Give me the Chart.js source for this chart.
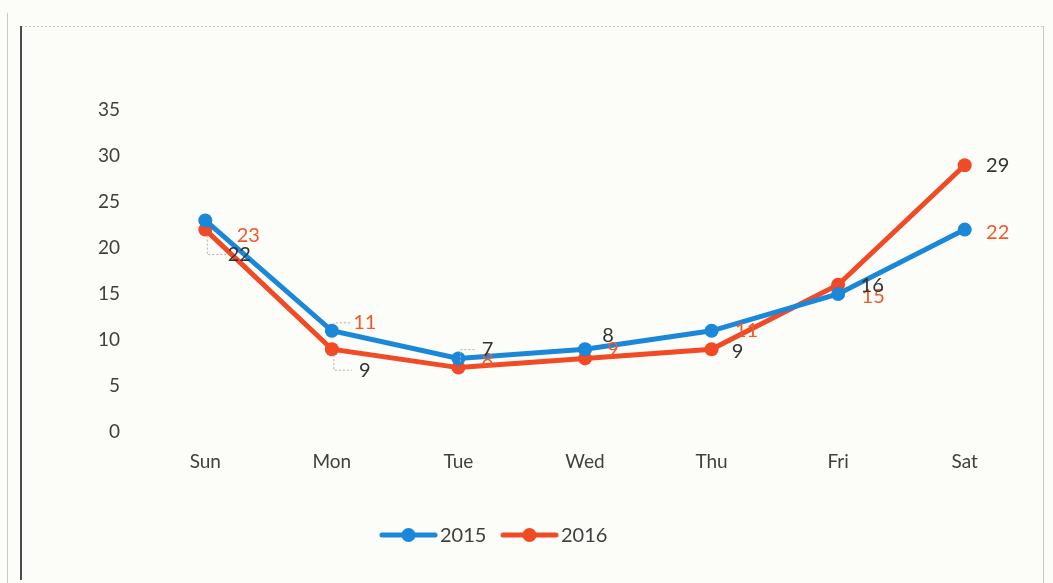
<!DOCTYPE html>
<html>
<head>
<meta charset="utf-8">
<script src="https://cdn.jsdelivr.net/npm/chart.js@4/dist/chart.umd.min.js"></script>
<style>
  html, body { margin: 0; padding: 0; background: #fcfcf8; }
  #wrap { position: relative; width: 1053px; height: 583px; }
</style>
</head>
<body>
<div id="wrap"><canvas id="c" width="1053" height="583"></canvas></div>
<script>
// Weekly counts for two years
const days = ['Sun', 'Mon', 'Tue', 'Wed', 'Thu', 'Fri', 'Sat'];
const series2015 = [23, 11, 8, 9, 11, 15, 22];
const series2016 = [22, 9, 7, 8, 9, 16, 29];
const yTicks = [0, 5, 10, 15, 20, 25, 30, 35];

const BLUE = '#1b87d8';
const RED = '#f04b26';
const LABEL_ORANGE = '#ef5a2c';
const LABEL_DARK = '#333333';
const FONT = "'Lato', 'Open Sans', sans-serif";

// Offsets (px) of each value label from its point, per series
const labelOffsets = {
  0: [[43, 15], [33, -8], [29, 2], [28, 0], [35, 0], [35, 3], [33, 3]],
  1: [[34, 25], [33, 21], [29, -18], [23, -23], [26, 2], [34, 1], [33, 0]]
};
const labelColors = { 0: LABEL_ORANGE, 1: LABEL_DARK };

// Frame, value labels and legend
const decor = {
  id: 'decor',
  beforeDraw(chart) {
    const ctx = chart.ctx;
    ctx.save();
    ctx.fillStyle = '#fcfcf8';
    ctx.fillRect(0, 0, chart.width, chart.height);
    // outer faint page edge
    ctx.strokeStyle = '#c9c9c0';
    ctx.lineWidth = 1;
    ctx.beginPath();
    ctx.moveTo(7.5, 13); ctx.lineTo(7.5, 583);
    ctx.stroke();
    // chart frame
    ctx.strokeStyle = '#c8ccb0';
    ctx.setLineDash([2, 2]);
    ctx.beginPath();
    ctx.moveTo(21, 26.5); ctx.lineTo(1043, 26.5);
    ctx.stroke();
    ctx.setLineDash([]);
    ctx.strokeStyle = '#c4c8b4';
    ctx.beginPath();
    ctx.moveTo(1043.5, 26); ctx.lineTo(1043.5, 583);
    ctx.stroke();
    ctx.strokeStyle = '#4a4a50';
    ctx.lineWidth = 2;
    ctx.beginPath();
    ctx.moveTo(21, 26); ctx.lineTo(21, 580);
    ctx.stroke();
    ctx.restore();
  },
  afterDatasetsDraw(chart) {
    const ctx = chart.ctx;
    ctx.save();
    ctx.font = '20px ' + FONT;
    ctx.textAlign = 'center';
    ctx.textBaseline = 'middle';
    // leader lines for labels that sit away from their points
    ctx.strokeStyle = '#b0b0b0';
    ctx.lineWidth = 1;
    ctx.setLineDash([2, 2]);
    const leader = [[1, 0], [1, 1], [0, 1], [1, 2]];
    leader.forEach(([ds, i]) => {
      const p = chart.getDatasetMeta(ds).data[i];
      const [dx, dy] = labelOffsets[ds][i];
      ctx.beginPath();
      ctx.moveTo(p.x + 2, p.y + (dy > 0 ? 6 : -6));
      ctx.lineTo(p.x + 2, p.y + dy);
      ctx.lineTo(p.x + dx - 13, p.y + dy);
      ctx.stroke();
    });
    ctx.setLineDash([]);
    chart.data.datasets.forEach((d, ds) => {
      const meta = chart.getDatasetMeta(ds);
      meta.data.forEach((p, i) => {
        const [dx, dy] = labelOffsets[ds][i];
        ctx.fillStyle = labelColors[ds];
        ctx.fillText(String(d.data[i]), p.x + dx, p.y + dy);
      });
    });
    ctx.restore();
  },
  afterDraw(chart) {
    const ctx = chart.ctx;
    ctx.save();
    ctx.font = '20px ' + FONT;
    ctx.textBaseline = 'middle';
    const y = 535;
    let x = 382;
    chart.data.datasets.forEach(d => {
      ctx.strokeStyle = d.borderColor;
      ctx.lineWidth = 5;
      ctx.lineCap = 'round';
      ctx.beginPath();
      ctx.moveTo(x, y); ctx.lineTo(x + 53, y);
      ctx.stroke();
      ctx.fillStyle = d.backgroundColor;
      ctx.beginPath();
      ctx.arc(x + 26.5, y, 7, 0, Math.PI * 2);
      ctx.fill();
      ctx.fillStyle = '#404040';
      ctx.fillText(d.label, x + 58, y + 1);
      x += 121;
    });
    ctx.restore();
  }
};

new Chart(document.getElementById('c'), {
  type: 'line',
  data: {
    labels: days,
    datasets: [
      { label: '2015', data: series2015, borderColor: BLUE, backgroundColor: BLUE,
        borderWidth: 5, pointRadius: 7, pointHoverRadius: 7, pointBorderWidth: 0, tension: 0 },
      { label: '2016', data: series2016, borderColor: RED, backgroundColor: RED,
        borderWidth: 5, pointRadius: 7, pointHoverRadius: 7, pointBorderWidth: 0, tension: 0 }
    ]
  },
  options: {
    responsive: false,
    animation: false,
    events: [],
    layout: { padding: { left: 20, right: 25, top: 110, bottom: 0 } },
    plugins: { legend: { display: false }, tooltip: { enabled: false } },
    scales: {
      x: {
        offset: true,
        grid: { display: false, drawTicks: false },
        border: { display: false },
        ticks: { color: '#404040', font: { family: FONT, size: 19 }, padding: 18, maxRotation: 0 },
        afterFit(scale) { scale.height = 151; }
      },
      y: {
        min: 0, max: 35,
        afterBuildTicks(scale) { scale.ticks = yTicks.map(v => ({ value: v })); },
        grid: { display: false, drawTicks: false },
        border: { display: false },
        ticks: { color: '#404040', font: { family: FONT, size: 19 }, padding: 22 },
        afterFit(scale) { scale.width = 122; }
      }
    }
  },
  plugins: [decor]
});
</script>
</body>
</html>
